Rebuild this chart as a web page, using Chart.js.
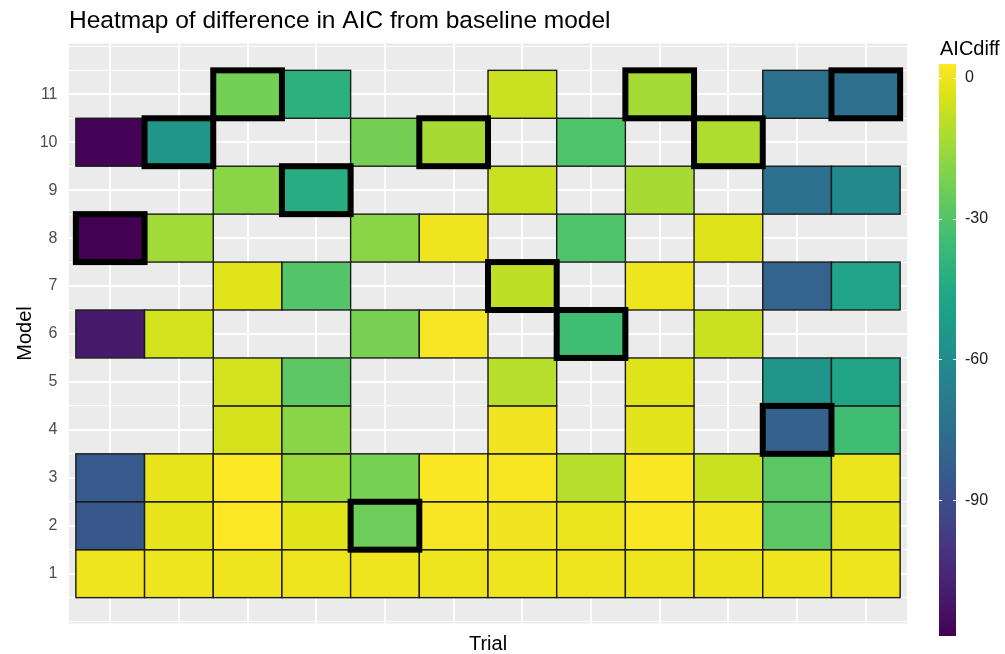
<!DOCTYPE html>
<html>
<head>
<meta charset="utf-8">
<title>Heatmap of difference in AIC from baseline model</title>
<script src="https://cdn.jsdelivr.net/npm/chart.js@4.4.1/dist/chart.umd.min.js"></script>
<style>
  html, body { margin: 0; padding: 0; background: #fff; }
  canvas { display: block; }
</style>
</head>
<body>
<canvas id="heatmap" width="1005" height="654"></canvas>
<script>
// AIC difference from the baseline model, one array per model, one value per trial
// null = no value for that model/trial
const trials = [1, 2, 3, 4, 5, 6, 7, 8, 9, 10, 11, 12];
const models = [1, 2, 3, 4, 5, 6, 7, 8, 9, 10, 11];

const model1  = [0, 0, 0, 0, 0, 0, 0, 0, 0, 0, 0, 0];
const model2  = [-85.8, -1.1, 2.9, -2.3, -24.5, 1.8, 0.4, -0.6, 2.4, 1.0, -28.2, -1.1];
const model3  = [-85.4, -1.2, 2.6, -15.4, -22.3, 2.3, 1.6, -10.1, 2.4, -6.8, -28.2, -0.5];
const model4  = [null, null, -4.6, -18.7, null, null, 0.4, null, -2.0, null, -81.0, -34.8];
const model5  = [null, null, -5.1, -27.5, null, null, -10.1, null, -2.8, null, -55.0, -47.8];
const model6  = [-110.4, -5.1, null, null, -22.1, 1.8, null, -34.8, null, -6.8, null, null];
const model7  = [null, null, -2.3, -30.0, null, null, -8.7, null, 0.3, null, -79.9, -48.2];
const model8  = [-118.9, -13.9, null, null, -18.4, 0.3, null, -31.0, null, -3.2, null, null];
const model9  = [null, null, -18.4, -43.4, null, null, -6.8, null, -13.0, null, -74.4, -61.6];
const model10 = [-118.3, -55.0, null, null, -22.5, -12.9, null, -31.0, null, -11.7, null, null];
const model11 = [null, null, -22.7, -41.0, null, null, -6.8, null, -13.4, null, -74.4, -74.8];

// model drawn with the heavy outline in each trial
const bestModel = [8, 10, 11, 9, 2, 10, 7, 6, 11, 10, 4, 11];

const legendBreaks = [0, -30, -60, -90];

const modelRows = [model1, model2, model3, model4, model5, model6, model7, model8, model9, model10, model11];

// viridis palette, 21 stops
const viridisHex = ['#440154', '#471365', '#482475', '#463480', '#414487', '#3b528b', '#355f8d',
  '#2f6c8e', '#2a788e', '#25848e', '#21908c', '#1e9c89', '#22a884', '#2fb47c', '#43bf71',
  '#5dc863', '#7ad151', '#9ad93c', '#bbdf27', '#dde318', '#fde725'];

function hexRgb(h) {
  return [1, 3, 5].map(i => parseInt(h.slice(i, i + 2), 16));
}

function viridis(t) {
  t = Math.max(0, Math.min(1, t));
  const pos = t * (viridisHex.length - 1);
  const i = Math.min(Math.floor(pos), viridisHex.length - 2);
  const f = pos - i;
  const a = hexRgb(viridisHex[i]), b = hexRgb(viridisHex[i + 1]);
  const c = a.map((v, k) => Math.round(v + (b[k] - v) * f));
  return 'rgb(' + c.join(',') + ')';
}

// cells for the library
const cells = [];
modelRows.forEach((row, i) => {
  row.forEach((v, j) => {
    if (v !== null) cells.push({x: trials[j], y: models[i], v: v});
  });
});
const vMin = Math.min(...cells.map(c => c.v));
const vMax = Math.max(...cells.map(c => c.v));

const FONT = '"Liberation Sans", Arial, sans-serif';
Chart.defaults.font.family = FONT;

// --- panel background + tiles ---
const tilePlugin = {
  id: 'tiles',
  beforeDraw(chart) {
    const {ctx, chartArea: a} = chart;
    ctx.save();
    ctx.fillStyle = '#ebebeb';
    ctx.fillRect(a.left, a.top, a.right - a.left, a.bottom - a.top);
    ctx.restore();
  },
  beforeDatasetsDraw(chart) {
    const {ctx, scales: {x, y}} = chart;
    const box = (tx, my) => {
      const l = x.getPixelForValue(tx - 0.5), r = x.getPixelForValue(tx + 0.5);
      const t = y.getPixelForValue(my + 0.5), b = y.getPixelForValue(my - 0.5);
      return [l, t, r - l, b - t];
    };
    ctx.save();
    chart.data.datasets[0].data.forEach(c => {
      const b = box(c.x, c.y);
      ctx.fillStyle = viridis((c.v - vMin) / (vMax - vMin));
      ctx.fillRect(...b);
      ctx.lineWidth = 1.4;
      ctx.strokeStyle = '#1a1a1a';
      ctx.strokeRect(...b);
    });
    ctx.lineWidth = 6;
    ctx.strokeStyle = '#000';
    bestModel.forEach((m, i) => ctx.strokeRect(...box(trials[i], m)));
    ctx.restore();
  }
};

// --- colour bar legend ---
const colorbarPlugin = {
  id: 'colorbar',
  afterDraw(chart) {
    const ctx = chart.ctx;
    const bx = 939, bw = 17, top = 64, bottom = 636;
    const yOf = v => bottom - (v - vMin) / (vMax - vMin) * (bottom - top);
    ctx.save();
    const g = ctx.createLinearGradient(0, bottom, 0, top);
    viridisHex.forEach((h, i) => g.addColorStop(i / (viridisHex.length - 1), h));
    ctx.fillStyle = g;
    ctx.fillRect(bx, top, bw, bottom - top);

    ctx.strokeStyle = '#fff';
    ctx.lineWidth = 1;
    ctx.font = '16px ' + FONT;
    ctx.fillStyle = '#1a1a1a';
    ctx.textAlign = 'left';
    ctx.textBaseline = 'middle';
    legendBreaks.forEach(v => {
      const yy = Math.round(yOf(v)) + 0.5;
      ctx.beginPath();
      ctx.moveTo(bx, yy); ctx.lineTo(bx + 3, yy);
      ctx.moveTo(bx + bw - 3, yy); ctx.lineTo(bx + bw, yy);
      ctx.stroke();
      ctx.fillText(String(v), 965, yOf(v));
    });

    ctx.font = '20px ' + FONT;
    ctx.fillStyle = '#000';
    ctx.textBaseline = 'alphabetic';
    ctx.fillText('AICdiff', 940, 55);
    ctx.restore();
  }
};

const yTickValues = [];
for (let v = 0; v <= 12; v += 0.5) yTickValues.push(v);
const isMajor = v => Number.isInteger(v) && v >= 1 && v <= 11;

new Chart(document.getElementById('heatmap'), {
  type: 'scatter',
  data: {
    datasets: [{
      label: 'AICdiff',
      data: cells,
      pointRadius: 0,
      pointHoverRadius: 0
    }]
  },
  options: {
    responsive: false,
    animation: false,
    events: [],
    layout: {padding: {left: 9, right: 98, top: 0, bottom: 0}},
    plugins: {
      legend: {display: false},
      tooltip: {enabled: false},
      title: {
        display: true,
        text: 'Heatmap of difference in AIC from baseline model',
        align: 'start',
        fullSize: false,
        color: '#000',
        font: {size: 24.5, weight: 'normal', family: FONT},
        padding: {top: 7, bottom: 7.1}
      }
    },
    scales: {
      x: {
        type: 'linear',
        min: 0.4,
        max: 12.6,
        afterBuildTicks: s => { s.ticks = trials.map(v => ({value: v})); },
        afterFit: s => { s.height = 30.5; },
        ticks: {display: false},
        border: {display: false},
        grid: {color: '#fff', lineWidth: 2, drawTicks: false},
        title: {
          display: true,
          text: 'Trial',
          color: '#000',
          font: {size: 20, family: FONT, lineHeight: 1},
          padding: {top: 0, bottom: 0}
        }
      },
      y: {
        type: 'linear',
        min: -0.04,
        max: 12.06,
        afterBuildTicks: s => { s.ticks = yTickValues.map(v => ({value: v})); },
        afterFit: s => { s.width = 60; },
        ticks: {
          autoSkip: false,
          padding: 11.5,
          color: '#4d4d4d',
          font: {size: 16, family: FONT},
          callback: v => isMajor(v) ? String(v) : ''
        },
        border: {display: false},
        grid: {
          color: '#fff',
          lineWidth: c => isMajor(c.tick.value) ? 2 : 1,
          drawTicks: false
        },
        title: {
          display: true,
          text: 'Model',
          color: '#000',
          font: {size: 20, family: FONT},
          padding: {top: 4, bottom: 4}
        }
      }
    }
  },
  plugins: [tilePlugin, colorbarPlugin]
});
</script>
</body>
</html>
